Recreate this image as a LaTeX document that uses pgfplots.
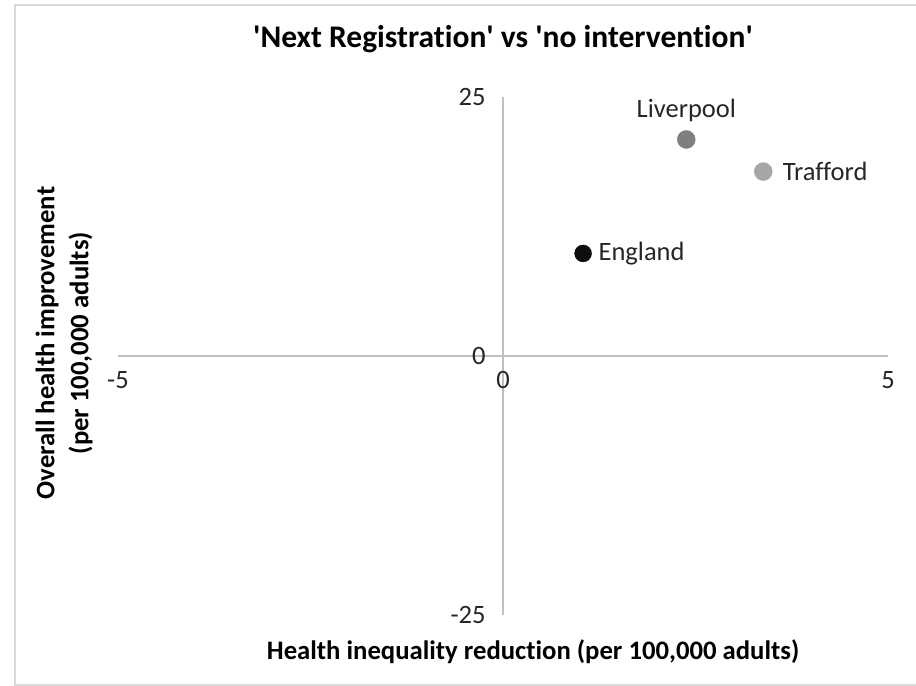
\documentclass[border=0pt]{standalone}
\usepackage{pgfplots}
\pgfplotsset{compat=1.18}
\usepackage{fontspec}
\setmainfont{Carlito}[Ligatures=NoCommon]
\definecolor{axgray}{HTML}{BFBFBF}
\definecolor{frame}{HTML}{D9D9D9}
\definecolor{ptEng}{HTML}{0D0D0D}
\definecolor{ptLiv}{HTML}{7F7F7F}
\definecolor{ptTra}{HTML}{A6A6A6}
\definecolor{txt}{HTML}{262626}
\begin{document}
\begin{tikzpicture}[x=1bp,y=1bp]
\useasboundingbox (0,0) rectangle (916,686);
\draw[frame, line width=2bp] (15,1) rectangle (918,681);
\begin{axis}[
  at={(118bp,71bp)}, anchor=south west,
  scale only axis, width=770bp, height=518bp,
  xmin=-5, xmax=5, ymin=-25, ymax=25,
  axis lines=middle,
  axis line style={-, axgray, line width=1.5bp},
  xtick={-5,0,5}, xticklabels={-5,0,5},
  ytick={-25,0,25}, yticklabels={-25,0,25},
  major tick length=0pt,
  hide obscured x ticks=false, hide obscured y ticks=false,
  ticklabel style={font=\fontsize{26.5bp}{30bp}\selectfont, text=txt},
  xticklabel style={anchor=north, yshift=-12bp},
  yticklabel style={anchor=east, xshift=-14bp},
  title={\textquotesingle Next Registration\textquotesingle\ vs \textquotesingle no intervention\textquotesingle},
  title style={at={(axis description cs:0.5,1)}, anchor=center, yshift=52bp,
    font=\bfseries\fontsize{31.5bp}{36bp}\selectfont, text=black},
  xlabel={Health inequality reduction (per 100,000 adults)},
  xlabel style={at={(axis description cs:0.539,0)}, anchor=center, yshift=-37bp,
    font=\bfseries\fontsize{26.7bp}{30bp}\selectfont, text=black},
  ylabel={Overall health improvement\\(per 100,000 adults)},
  ylabel style={at={(axis description cs:0,0.525)}, anchor=center, rotate=90, yshift=54bp,
    align=center, font=\bfseries\fontsize{26.7bp}{34bp}\selectfont, text=black},
  clip=false,
  nodes near coords,
  point meta=explicit symbolic,
  nodes near coords style={font=\fontsize{26.5bp}{30bp}\selectfont, text=txt},
]
\addplot[only marks, mark=*, mark size=8.5bp, mark options={fill=ptEng, draw=ptEng},
  nodes near coords style={anchor=west, xshift=12bp}]
  coordinates {(1.04,9.9) [England]};
\addplot[only marks, mark=*, mark size=9bp, mark options={fill=ptLiv, draw=ptLiv},
  nodes near coords style={anchor=south, yshift=14bp}]
  coordinates {(2.38,20.9) [Liverpool]};
\addplot[only marks, mark=*, mark size=9bp, mark options={fill=ptTra, draw=ptTra},
  nodes near coords style={anchor=west, xshift=16bp}]
  coordinates {(3.38,17.8) [Trafford]};
\end{axis}
\end{tikzpicture}
\end{document}
